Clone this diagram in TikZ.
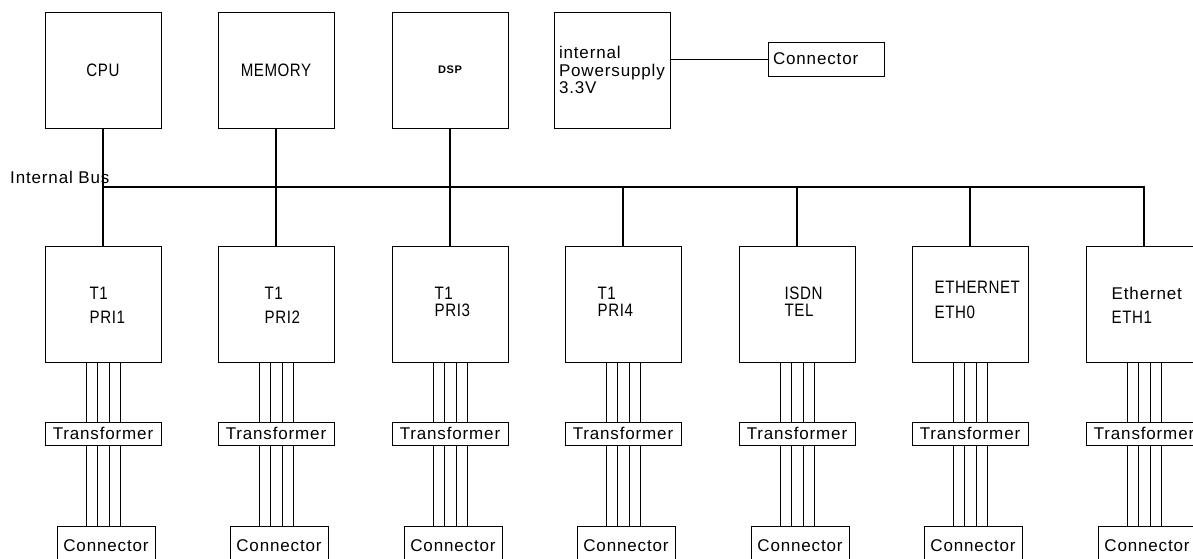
\documentclass[tikz,border=0pt]{standalone}
\usepackage{fontspec}
\setmainfont{Liberation Sans}[LetterSpace=5]
\newfontfamily\capfont{Liberation Sans}[FakeStretch=0.84,LetterSpace=3]
\usetikzlibrary{positioning,calc}
\begin{document}
\begin{tikzpicture}[x=1pt,y=-1pt,
  font=\fontsize{17}{20}\selectfont,
  unit/.style={draw,line width=1pt,minimum width=116pt,minimum height=116pt,inner sep=0pt},
  xfmr/.style={draw,line width=1pt,minimum width=116pt,minimum height=23pt,inner sep=0pt},
  jack/.style={draw,line width=1pt,minimum width=98pt,minimum height=40pt,inner sep=0pt},
  txt/.style={anchor=base west,inner sep=0pt},
  caps/.style={font=\capfont\fontsize{18}{20}\selectfont},
  bus/.style={line width=1.6pt},
  wire/.style={line width=0.9pt}]
\useasboundingbox (0,0) rectangle (1193,558);
\clip (0,0) rectangle (1193,558);
% processor side, above the bus
\node[unit,caps] (cpu) at (103,70) {CPU};
\node[unit,caps] (mem) at (276,70) {MEMORY};
\node[unit,font=\bfseries\fontsize{11}{13}\selectfont] (dsp) at (450,70) {DSP};
\node[unit,text width=106pt,inner xsep=5pt,align=left,font=\fontsize{17}{17.5}\selectfont]
   (psu) at (612,70) {internal\\Powersupply\\3.3V};
\node[draw,line width=1pt,minimum height=34pt,text width=106pt,inner xsep=5pt,inner ysep=0pt,align=left]
   (pcon) at (826,59) {Connector};
\draw[line width=1pt] (psu.east |- pcon) -- (pcon);
% line interfaces, below the bus
\node[unit] (pri1) at (103,304.5) {};
\node[unit] (pri2) at (276,304.5) {};
\node[unit] (pri3) at (450,304.5) {};
\node[unit] (pri4) at (623,304.5) {};
\node[unit] (tel)  at (797,304.5) {};
\node[unit] (eth0) at (970,304.5) {};
\node[unit] (eth1) at (1144,304.5) {};
\node[txt,caps] at ($(pri1.north west)+(45,53)$) {T1};
\node[txt,caps] at ($(pri1.north west)+(45,77)$) {PRI1};
\node[txt,caps] at ($(pri2.north west)+(47,53)$) {T1};
\node[txt,caps] at ($(pri2.north west)+(47,77)$) {PRI2};
\node[txt,caps] at ($(pri3.north west)+(43,53)$) {T1};
\node[txt,caps] at ($(pri3.north west)+(43,70)$) {PRI3};
\node[txt,caps] at ($(pri4.north west)+(33,53)$) {T1};
\node[txt,caps] at ($(pri4.north west)+(33,70)$) {PRI4};
\node[txt,caps] at ($(tel.north west)+(46,53)$) {ISDN};
\node[txt,caps] at ($(tel.north west)+(46,70)$) {TEL};
\node[txt,caps] at ($(eth0.north west)+(23,47)$) {ETHERNET};
\node[txt,caps] at ($(eth0.north west)+(23,72)$) {ETH0};
\node[txt] at ($(eth1.north west)+(26,53)$) {Ethernet};
\node[txt,caps] at ($(eth1.north west)+(26,77)$) {ETH1};
% transformers and connectors
\node[xfmr] (trpri1) at (103,433.5) {Transformer};
\node[xfmr] (trpri2) at (276,433.5) {Transformer};
\node[xfmr] (trpri3) at (450,433.5) {Transformer};
\node[xfmr] (trpri4) at (623,433.5) {Transformer};
\node[xfmr] (trtel)  at (797,433.5) {Transformer};
\node[xfmr] (treth0) at (970,433.5) {Transformer};
\node[xfmr] (treth1) at (1144,433.5) {Transformer};
\node[jack] (jkpri1) at (106,546) {Connector};
\node[jack] (jkpri2) at (279,546) {Connector};
\node[jack] (jkpri3) at (453,546) {Connector};
\node[jack] (jkpri4) at (626,546) {Connector};
\node[jack] (jktel)  at (800,546) {Connector};
\node[jack] (jketh0) at (973,546) {Connector};
\node[jack] (jketh1) at (1147,546) {Connector};
% internal bus
\coordinate (busL) at (103,187);
\coordinate (busR) at (1144,187);
\node[txt] (buslbl) at (10,183) {Internal Bus};
\draw[bus] (busL) -- (busR) -- (eth1);
\draw[bus] (cpu) -- (pri1);
\draw[bus] (mem) -- (pri2);
\draw[bus] (dsp) -- (pri3);
\draw[bus] (busL -| pri4) -- (pri4);
\draw[bus] (busL -| tel) -- (tel);
\draw[bus] (busL -| eth0) -- (eth0);
% four wires per line interface
\foreach \u in {pri1,pri2,pri3,pri4,tel,eth0,eth1}{
  \foreach \w in {-17,-6,6,17}{
    \draw[wire] ($(\u.south)+(\w,0)$) -- ($(tr\u.north)+(\w,0)$);
    \draw[wire] ($(tr\u.south)+(\w,0)$) -- ($(jk\u.north)+(\w-3,0)$);
  }}
\end{tikzpicture}
\end{document}
